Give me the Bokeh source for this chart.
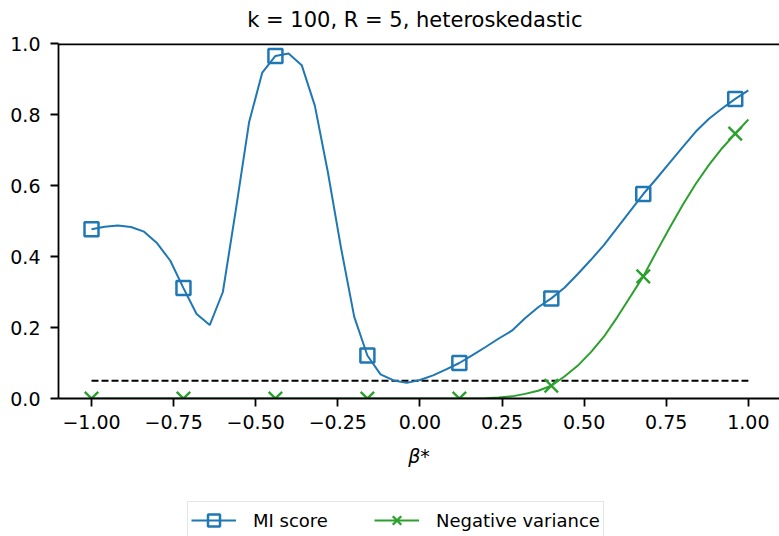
from bokeh.plotting import figure
from bokeh.layouts import column
from bokeh.models import Range1d, FixedTicker, Span, Legend, LegendItem, Label
from bokeh.embed import file_html
from bokeh.resources import INLINE

# ---- data ----
beta = [-1.00, -0.96, -0.92, -0.88, -0.84, -0.80, -0.76, -0.72, -0.68, -0.64,
        -0.60, -0.56, -0.52, -0.48, -0.44, -0.40, -0.36, -0.32, -0.28, -0.24,
        -0.20, -0.16, -0.12, -0.08, -0.04, 0.00, 0.04, 0.08, 0.12, 0.16,
        0.20, 0.24, 0.28, 0.32, 0.36, 0.40, 0.44, 0.48, 0.52, 0.56,
        0.60, 0.64, 0.68, 0.72, 0.76, 0.80, 0.84, 0.88, 0.92, 0.96, 1.00]

mi_score = [0.477, 0.484, 0.487, 0.483, 0.470, 0.437, 0.388, 0.311, 0.238, 0.207,
            0.300, 0.535, 0.779, 0.918, 0.965, 0.972, 0.939, 0.825, 0.636, 0.423,
            0.230, 0.121, 0.068, 0.051, 0.044, 0.052, 0.065, 0.082, 0.100, 0.122,
            0.145, 0.169, 0.191, 0.226, 0.257, 0.282, 0.312, 0.350, 0.390, 0.432,
            0.480, 0.528, 0.576, 0.619, 0.664, 0.708, 0.752, 0.788, 0.817, 0.844, 0.868]

neg_variance = [0.0, 0.0, 0.0, 0.0, 0.0, 0.0, 0.0, 0.0, 0.0, 0.0,
                0.0, 0.0, 0.0, 0.0, 0.0, 0.0, 0.0, 0.0, 0.0, 0.0,
                0.0, 0.0, 0.0, 0.0, 0.0, 0.0, 0.0, 0.0, 0.0, 0.0,
                0.001, 0.003, 0.006, 0.013, 0.022, 0.036, 0.062, 0.092, 0.130, 0.174,
                0.228, 0.286, 0.344, 0.413, 0.480, 0.545, 0.605, 0.658, 0.705, 0.746, 0.786]

marker_every = 7
threshold = 0.05

xticks = [-1.0, -0.75, -0.5, -0.25, 0.0, 0.25, 0.5, 0.75, 1.0]
xtick_labels = ["\u22121.00", "\u22120.75", "\u22120.50", "\u22120.25", "0.00",
                "0.25", "0.50", "0.75", "1.00"]
yticks = [0.0, 0.2, 0.4, 0.6, 0.8, 1.0]
ytick_labels = ["0.0", "0.2", "0.4", "0.6", "0.8", "1.0"]

title_text = "k = 100,  R = 5,  heteroskedastic"
xlabel = "\u03b2*"
labels = ["MI score", "Negative variance"]

BLUE = "#1f77b4"
GREEN = "#2ca02c"
FONT = "DejaVu Sans"
FS = "19px"


def strip(h):
    f = figure(width=779, height=h, output_backend="svg", toolbar_location=None,
               x_axis_location=None, y_axis_location=None,
               min_border_left=0, min_border_right=0,
               min_border_top=0, min_border_bottom=0,
               x_range=Range1d(0, 1), y_range=Range1d(0, 1))
    f.outline_line_color = None
    f.xgrid.visible = False
    f.ygrid.visible = False
    f.border_fill_color = "white"
    return f


# ---- title strip ----
t = strip(30)
t.add_layout(Label(x=363, y=11, x_units="screen", y_units="screen",
                   text=title_text, text_font=FONT, text_font_size="21px",
                   text_color="black", text_align="center", text_baseline="middle"))

# ---- main chart ----
p = figure(width=779, height=460,
           x_range=Range1d(-1.1005, 1.0948), y_range=Range1d(0, 1),
           output_backend="svg", toolbar_location=None,
           min_border_left=58, min_border_right=0,
           min_border_top=13, min_border_bottom=92)

p.outline_line_color = None
p.xgrid.visible = False
p.ygrid.visible = False
p.background_fill_color = "white"
p.border_fill_color = "white"

for ax in (p.xaxis[0], p.yaxis[0]):
    ax.axis_line_width = 1.8
    ax.axis_line_color = "black"
    ax.major_tick_line_width = 1.8
    ax.major_tick_line_color = "black"
    ax.major_tick_in = 0
    ax.major_tick_out = 8
    ax.minor_tick_line_color = None
    ax.major_label_text_font = FONT
    ax.major_label_text_font_size = FS
    ax.major_label_text_color = "black"

p.yaxis.major_label_standoff = 10
p.xaxis.major_label_standoff = 8
p.xaxis.ticker = FixedTicker(ticks=xticks)
p.xaxis.major_label_overrides = {t_: l for t_, l in zip(xticks, xtick_labels)}
p.yaxis.ticker = FixedTicker(ticks=yticks)
p.yaxis.major_label_overrides = {t_: l for t_, l in zip(yticks, ytick_labels)}

p.xaxis.axis_label = xlabel
p.xaxis.axis_label_text_font = FONT
p.xaxis.axis_label_text_font_size = "19px"
p.xaxis.axis_label_text_font_style = "italic"
p.xaxis.axis_label_text_color = "black"
p.xaxis.axis_label_standoff = 13

# top spine (half of it is clipped at the frame edge)
p.add_layout(Span(location=1, dimension="width", line_color="black", line_width=3.6))

# threshold dashed line
p.line([beta[0], beta[-1]], [threshold, threshold], line_color="black",
       line_width=1.8, line_dash="7 3")

mx = beta[::marker_every]
p.line(beta, mi_score, line_color=BLUE, line_width=2)
p.scatter(mx, mi_score[::marker_every], marker="square", size=14,
          fill_color=None, line_color=BLUE, line_width=2.5)
p.line(beta, neg_variance, line_color=GREEN, line_width=2)
p.scatter(mx, neg_variance[::marker_every], marker="x", size=19,
          line_color=GREEN, line_width=2.4)

# ---- legend strip below the chart ----
q = strip(46)
hx, hy = [5, 6], [5, 6]   # legend proxies outside the visible range
l1 = q.line(hx, hy, line_color=BLUE, line_width=2)
s1 = q.scatter(hx, hy, marker="square", size=14, fill_color=None,
               line_color=BLUE, line_width=2.5)
l2 = q.line(hx, hy, line_color=GREEN, line_width=2)
s2 = q.scatter(hx, hy, marker="x", size=19, line_color=GREEN, line_width=2.4)

legend = Legend(items=[LegendItem(label=labels[0], renderers=[l1, s1]),
                       LegendItem(label=labels[1], renderers=[l2, s2])],
                orientation="horizontal", location=(129, -3),
                glyph_width=45, glyph_height=30, label_standoff=17, spacing=46,
                padding=3, margin=0,
                label_text_font=FONT, label_text_font_size="18px",
                label_text_color="black",
                border_line_color="#cccccc", border_line_width=1.5,
                background_fill_color="white", background_fill_alpha=1.0)
q.add_layout(legend, "center")

layout = column(t, p, q, spacing=0)
open("out.html", "w").write(file_html(layout, INLINE))
